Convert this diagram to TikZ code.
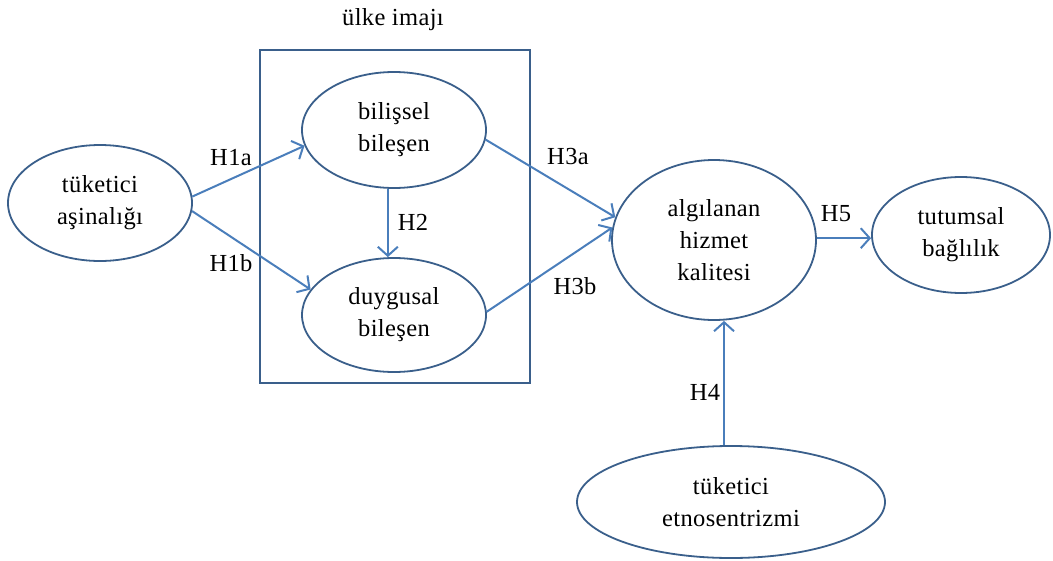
\documentclass[tikz,border=0pt]{standalone}
\usepackage{fontspec}
\setmainfont[LetterSpace=1.5]{Liberation Serif}
\usetikzlibrary{shapes.geometric,arrows.meta}
\definecolor{rim}{HTML}{3A5F8B}
\definecolor{link}{HTML}{4A7EBB}
\tikzset{
  construct/.style={ellipse, draw=rim, line width=1.8pt, inner sep=0pt, align=center,
    font=\fontsize{24.5}{32}\selectfont},
  path/.style={draw=link, line width=2pt, -{Straight Barb[length=9pt,width=20pt,line width=2pt]}},
  tag/.style={font=\fontsize{24.5}{28}\selectfont, inner sep=0pt}
}
\begin{document}
\begin{tikzpicture}[x=1pt,y=-1pt]
\useasboundingbox (0,0) rectangle (1053,560);

% country image block
\node[draw=rim, line width=1.8pt, minimum width=270pt, minimum height=333pt, inner sep=0pt] (box) at (395,216.5) {};
\node[tag] (boxlabel) at (393,20) {ülke imajı};

% constructs
\node[construct, minimum width=184pt, minimum height=116pt] (fam) at (100,203) {tüketici\\aşinalığı};
\node[construct, minimum width=184pt, minimum height=116pt] (cog) at (394,130) {bilişsel\\bileşen};
\node[construct, minimum width=184pt, minimum height=114pt] (aff) at (394,315) {duygusal\\bileşen};
\node[construct, minimum width=204pt, minimum height=160pt] (qual) at (714,240) {algılanan\\hizmet\\kalitesi};
\node[construct, minimum width=178pt, minimum height=116pt] (loy) at (961,235) {tutumsal\\bağlılık};
\node[construct, minimum width=308pt, minimum height=112pt] (eth) at (731,502) {tüketici\\etnosentrizmi};

% hypothesised paths
\draw[path] (fam.4) -- (cog.190);
\draw[path] (fam.-5) -- (aff.163);
\draw[path] (cog.-96) -- (cog.-96 |- aff.north);
\draw[path] (cog.-6) -- (qual.167);
\draw[path] (aff.2) -- (qual.173);
\draw[path] (qual.1) -- (qual.1 -| loy.west);
\draw[path] (eth.97) -- (eth.97 |- qual.south);

% path labels
\node[tag] (h1a) at (231,158) {H1a};
\node[tag] (h1b) at (231,263) {H1b};
\node[tag] (h2) at (413,222) {H2};
\node[tag] (h3a) at (568,157) {H3a};
\node[tag] (h3b) at (575,286) {H3b};
\node[tag] (h5) at (836,214) {H5};
\node[tag] (h4) at (705,392) {H4};
\end{tikzpicture}
\end{document}
